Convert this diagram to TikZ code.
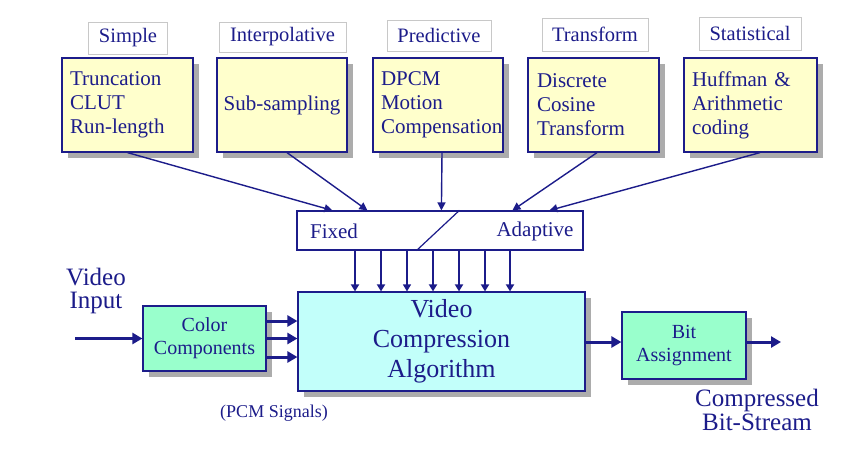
\documentclass[tikz,border=0pt]{standalone}
\usepackage{fontspec}
\setmainfont{Liberation Serif}
\usetikzlibrary{shadows,arrows.meta,calc}
\definecolor{navy}{RGB}{28,28,138}
\definecolor{yel}{RGB}{255,255,204}
\definecolor{cyanbox}{RGB}{194,255,250}
\definecolor{greenbox}{RGB}{153,255,204}
\definecolor{shadowgray}{RGB}{172,172,172}
\definecolor{framegray}{RGB}{200,200,200}
\tikzset{
  shad/.style={drop shadow={shadow xshift=6pt,shadow yshift=-6pt,fill=shadowgray,opacity=1}},
  catlabel/.style={draw=framegray,line width=1pt,fill=white,text=navy,font=\fontsize{20.5}{22}\selectfont,inner sep=0pt},
  methodbox/.style={shad,draw=navy,line width=1.2pt,fill=yel,text=navy,font=\fontsize{21}{24}\selectfont,
     minimum height=94pt,inner xsep=8pt,align=left},
  procbox/.style={shad,draw=navy,line width=1.2pt,fill=greenbox,text=navy,align=center,
     font=\fontsize{20}{23}\selectfont},
  plain/.style={text=navy,align=center,inner sep=0pt},
  thinarr/.style={draw=navy,line width=1.4pt,-{Triangle[length=8pt,width=8pt]}},
  downarr/.style={draw=navy,line width=2pt,-{Triangle[length=7pt,width=8pt]}},
  thickarr/.style={draw=navy,line width=3pt,-{Triangle[length=10pt,width=11pt]}},
}
\begin{document}
\begin{tikzpicture}[x=1pt,y=-1pt]
\useasboundingbox[fill=white] (0,0) rectangle (850,448);

% category labels
\node[catlabel,minimum width=79pt,minimum height=32pt] (lsimple) at (128,38) {Simple};
\node[catlabel,minimum width=127pt,minimum height=30pt] (linterp) at (282.5,37) {Interpolative};
\node[catlabel,minimum width=104pt,minimum height=31pt] (lpred) at (439,35.5) {Predictive};
\node[catlabel,minimum width=106pt,minimum height=33pt] (ltrans) at (595,34.5) {Transform};
\node[catlabel,minimum width=102pt,minimum height=33pt] (lstat) at (750,33.5) {Statistical};

% method boxes
\node[methodbox,text width=115pt] (b1) at (127.5,105) {Truncation\\CLUT\\Run-length};
\node[methodbox,minimum width=130pt,inner xsep=0pt] (b2) at (282,105) {\mbox{Sub-sampling}};
\node[methodbox,text width=114pt] (b3) at (438,105) {DPCM\\Motion\\Compensation};
\node[methodbox,text width=113pt,inner xsep=9pt] (b4) at (593.5,105) {Discrete\\Cosine\\Transform};
\node[methodbox,text width=117pt] (b5) at (750.5,105) {Huffman \&\\Arithmetic\\coding};

% fixed / adaptive
\node[draw=navy,line width=1.2pt,fill=white,minimum width=286pt,minimum height=39pt,inner sep=0pt] (fa) at (440,230.5) {};
\node[plain,font=\fontsize{21}{24}\selectfont] (fixed) at (334,231) {Fixed};
\node[plain,font=\fontsize{21}{24}\selectfont] (adapt) at (535,231) {Adaptive};
\coordinate (d1) at ($(fa.north west)+(163,0)$);
\coordinate (d2) at ($(fa.south west)+(120,0)$);
\draw[navy,line width=1.2pt] (d1) -- (d2);

% arrows from method boxes
\draw[thinarr] (b1.south) -- ($(fa.north west)+(36,0)$);
\draw[thinarr] ($(b2.south)+(5,0)$) -- ($(fa.north west)+(71,0)$);
\draw[thinarr] ($(b3.south)+(4,0)$) -- ($(fa.north west)+(145,0)$);
\draw[thinarr] ($(b4.south)+(3.5,0)$) -- ($(fa.north west)+(216,0)$);
\draw[thinarr] ($(b5.south)+(9.5,0)$) -- ($(fa.north west)+(253,0)$);

% main algorithm box
\node[shad,draw=navy,line width=1.2pt,fill=cyanbox,text=navy,align=center,
  minimum width=287pt,minimum height=99pt,font=\fontsize{26}{30}\selectfont] (vca) at (441.5,341.5)
  {Video\\Compression\\Algorithm};

% down arrows
\foreach \x in {355,381,433,459,485,510}
  \draw[downarr] (fa.south -| \x,0) -- (vca.north -| \x,0);
\draw[downarr,line width=1.3pt] (fa.south -| 407,0) -- (vca.north -| 407,0);

% color components
\node[procbox,minimum width=123pt,minimum height=65pt] (cc) at (204.5,338.5) {Color\\Components};
\node[plain,font=\fontsize{25}{23}\selectfont] (vin) at (96,291) {Video\\Input};
\coordinate (inp) at (75,338.5);
\draw[thickarr] (inp) -- (cc.west);
\foreach \dy in {-17.5,0,18.5}
  \draw[thickarr] ($(cc.east)+(0,\dy)$) -- ($(vca.west |- cc.east)+(0,\dy)$);
\node[plain,font=\fontsize{18}{20}\selectfont] (pcm) at (274,413) {(PCM Signals)};

% bit assignment
\node[procbox,minimum width=124pt,minimum height=67pt] (ba) at (684,345.5) {Bit\\Assignment};
\draw[thickarr] (vca.east |- 0,342) -- (ba.west |- 0,342);
\coordinate (outp) at (781,342);
\draw[thickarr] (ba.east |- 0,342) -- (outp);
\node[plain,font=\fontsize{25}{24}\selectfont] (cbs) at (757,410) {Compressed\\Bit-Stream};
\end{tikzpicture}
\end{document}
